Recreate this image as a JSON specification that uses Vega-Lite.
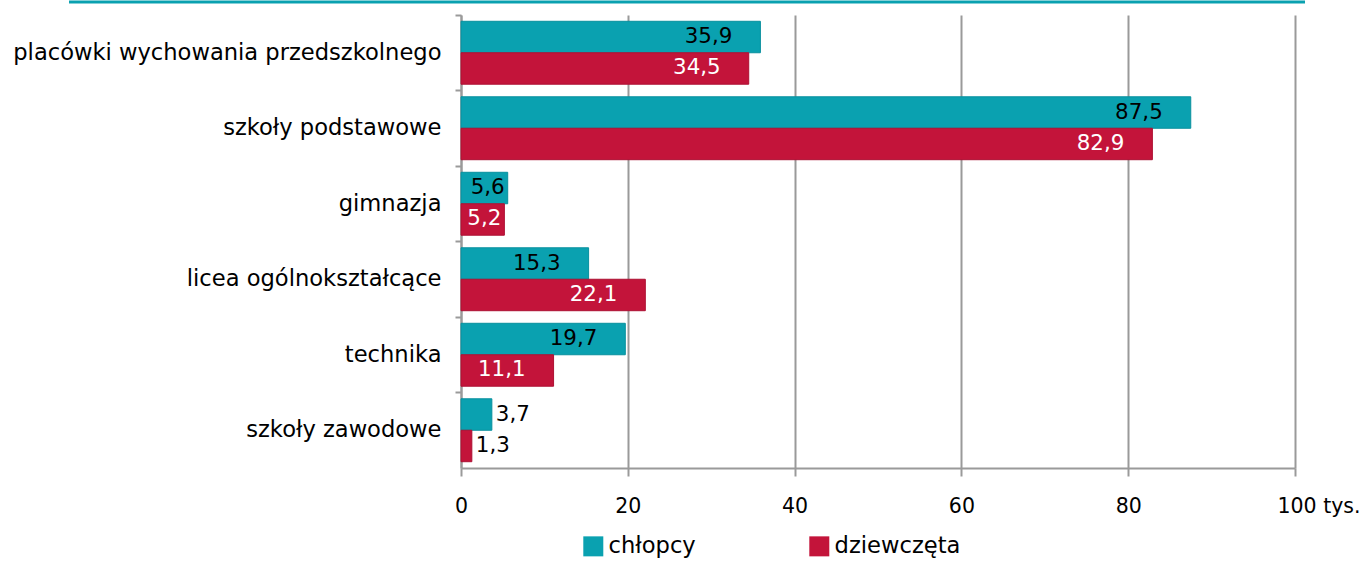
{
  "$schema": "https://vega.github.io/schema/vega-lite/v6.json",
  "autosize": {"type": "none"},
  "width": 834,
  "height": 453,
  "padding": {"left": 461, "top": 15, "right": 70, "bottom": 93},
  "config": {
    "locale": {"number": {"decimal": ",", "thousands": " ", "grouping": [3], "currency": ["", " zł"]}},
    "font": "DejaVu Sans",
    "view": {"stroke": null},
    "background": "white"
  },
  "data": {
    "values": [
      {"kategoria": "placówki wychowania przedszkolnego", "plec": "chłopcy", "wartosc": 35.9},
      {"kategoria": "placówki wychowania przedszkolnego", "plec": "dziewczęta", "wartosc": 34.5},
      {"kategoria": "szkoły podstawowe", "plec": "chłopcy", "wartosc": 87.5},
      {"kategoria": "szkoły podstawowe", "plec": "dziewczęta", "wartosc": 82.9},
      {"kategoria": "gimnazja", "plec": "chłopcy", "wartosc": 5.6},
      {"kategoria": "gimnazja", "plec": "dziewczęta", "wartosc": 5.2},
      {"kategoria": "licea ogólnokształcące", "plec": "chłopcy", "wartosc": 15.3},
      {"kategoria": "licea ogólnokształcące", "plec": "dziewczęta", "wartosc": 22.1},
      {"kategoria": "technika", "plec": "chłopcy", "wartosc": 19.7},
      {"kategoria": "technika", "plec": "dziewczęta", "wartosc": 11.1},
      {"kategoria": "szkoły zawodowe", "plec": "chłopcy", "wartosc": 3.7},
      {"kategoria": "szkoły zawodowe", "plec": "dziewczęta", "wartosc": 1.3}
    ]
  },
  "layer": [
    {
      "encoding": {
        "y": {
          "field": "kategoria",
          "type": "nominal",
          "sort": null,
          "scale": {"paddingInner": 0, "paddingOuter": 0},
          "axis": {
            "title": null,
            "bandPosition": 0,
            "labelFontSize": 22.6,
            "labelColor": "#000000",
            "labelPadding": 14,
            "tickSize": 6,
            "tickColor": "#9a9a9a",
            "tickWidth": 2,
            "domainColor": "#9a9a9a",
            "domainWidth": 2,
            "labelLimit": 460
          }
        },
        "yOffset": {
          "field": "plec",
          "type": "nominal",
          "sort": ["chłopcy", "dziewczęta"],
          "scale": {"paddingOuter": 0.2, "paddingInner": 0}
        }
      },
      "layer": [
        {
          "mark": {"type": "bar", "strokeWidth": 1},
          "encoding": {
            "x": {
              "field": "wartosc",
              "type": "quantitative",
              "scale": {"domain": [0, 100], "nice": false},
              "axis": {
                "orient": "bottom",
                "title": null,
                "values": [0, 20, 40, 60, 80, 100],
                "grid": true,
                "gridColor": "#9a9a9a",
                "gridWidth": 2,
                "domainColor": "#9a9a9a",
                "domainWidth": 2,
                "tickColor": "#9a9a9a",
                "tickWidth": 2,
                "tickSize": 8,
                "labelFontSize": 20.5,
                "labelColor": "#000000",
                "labelPadding": 20,
                "labelFlush": false,
                "labelExpr": "datum.value == 100 ? '100 tys.' : datum.label",
                "labelAlign": {"condition": {"test": "datum.value == 100", "value": "left"}, "value": "center"},
                "labelOffset": {"condition": {"test": "datum.value == 100", "value": -18}, "value": 0}
              }
            },
            "color": {
              "field": "plec",
              "type": "nominal",
              "scale": {"domain": ["chłopcy", "dziewczęta"], "range": ["#0aa1b0", "#c3143a"]},
              "legend": {
                "title": null,
                "orient": "none",
                "direction": "horizontal",
                "legendX": 121,
                "legendY": 520,
                "symbolType": "square",
                "symbolSize": 400,
                "symbolStrokeWidth": 0,
                "symbolOpacity": 1,
                "labelFontSize": 22.6,
                "labelColor": "#000000",
                "labelOffset": 4,
                "columnPadding": 112
              }
            },
            "stroke": {
              "field": "plec",
              "type": "nominal",
              "scale": {"domain": ["chłopcy", "dziewczęta"], "range": ["#08909e", "#ad1033"]},
              "legend": null
            }
          }
        },
        {
          "mark": {"type": "text", "align": "right", "baseline": "middle", "dx": -28, "fontSize": 21.4},
          "transform": [{"filter": "datum.wartosc >= 10"}],
          "encoding": {
            "x": {"field": "wartosc", "type": "quantitative"},
            "text": {"field": "wartosc", "type": "quantitative", "format": ".1f"},
            "color": {
              "condition": {"test": "datum.plec == 'chłopcy'", "value": "#000000"},
              "value": "#ffffff"
            }
          }
        },
        {
          "mark": {"type": "text", "align": "right", "baseline": "middle", "dx": -3, "fontSize": 21.4},
          "transform": [{"filter": "datum.wartosc >= 4 && datum.wartosc < 10"}],
          "encoding": {
            "x": {"field": "wartosc", "type": "quantitative"},
            "text": {"field": "wartosc", "type": "quantitative", "format": ".1f"},
            "color": {
              "condition": {"test": "datum.plec == 'chłopcy'", "value": "#000000"},
              "value": "#ffffff"
            }
          }
        },
        {
          "mark": {"type": "text", "align": "left", "baseline": "middle", "dx": 4, "fontSize": 21.4, "color": "#000000"},
          "transform": [{"filter": "datum.wartosc < 4"}],
          "encoding": {
            "x": {"field": "wartosc", "type": "quantitative"},
            "text": {"field": "wartosc", "type": "quantitative", "format": ".1f"}
          }
        }
      ]
    },
    {
      "data": {"values": [{"linia": "góra"}]},
      "mark": {"type": "rule", "color": "#0aa1b0", "strokeWidth": 3, "yOffset": -13, "clip": false},
      "encoding": {
        "x": {"datum": -47},
        "x2": {"datum": 101.2},
        "y": {"datum": "placówki wychowania przedszkolnego", "bandPosition": 0}
      }
    }
  ]
}
